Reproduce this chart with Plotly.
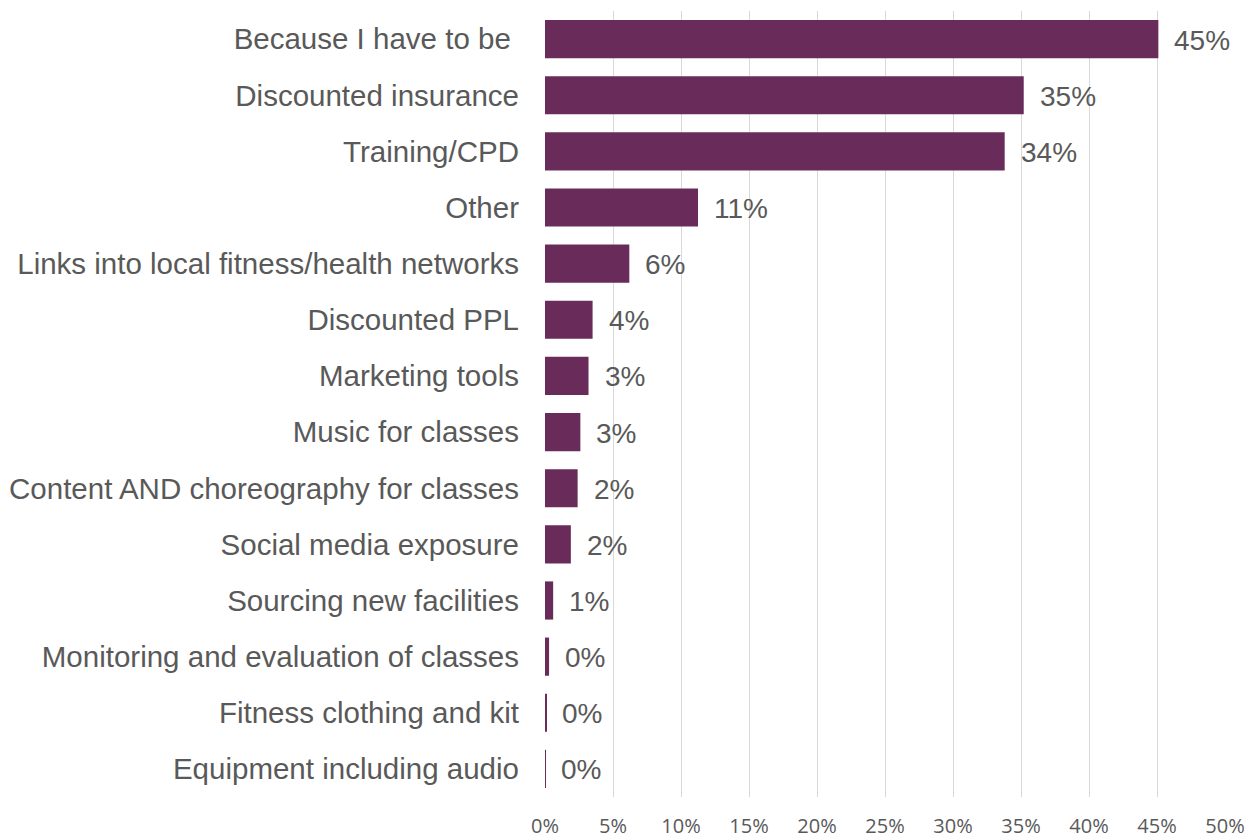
import plotly.graph_objects as go

categories = [
    "Because I have to be ",
    "Discounted insurance",
    "Training/CPD",
    "Other",
    "Links into local fitness/health networks",
    "Discounted PPL",
    "Marketing tools",
    "Music for classes",
    "Content AND choreography for classes",
    "Social media exposure",
    "Sourcing new facilities",
    "Monitoring and evaluation of classes",
    "Fitness clothing and kit",
    "Equipment including audio",
]
values = [0.451, 0.352, 0.338, 0.1125, 0.062, 0.035, 0.032, 0.026, 0.024, 0.019, 0.006, 0.003, 0.001, 0.0003]
value_labels = ["45%", "35%", "34%", "11%", "6%", "4%", "3%", "3%", "2%", "2%", "1%", "0%", "0%", "0%"]
x_tick_vals = [0, 0.05, 0.10, 0.15, 0.20, 0.25, 0.30, 0.35, 0.40, 0.45, 0.50]
x_tick_text = ["0%", "5%", "10%", "15%", "20%", "25%", "30%", "35%", "40%", "45%", "50%"]

bar_color = "#692C5A"
text_color = "#595959"

fig = go.Figure()
fig.add_trace(go.Bar(
    x=values,
    y=categories,
    orientation="h",
    marker=dict(color=bar_color, line=dict(width=0)),
    hoverinfo="skip",
))

for v, c, lab in zip(values, categories, value_labels):
    fig.add_annotation(
        x=v, y=c, text=lab, xanchor="left", yanchor="middle",
        showarrow=False, xshift=14, yshift=-1,
        font=dict(family="Liberation Sans, Arial, sans-serif", size=28, color=text_color),
    )

fig.update_layout(
    width=1251, height=831,
    margin=dict(l=537, r=34, t=3, b=42, autoexpand=False),
    paper_bgcolor="white", plot_bgcolor="white",
    bargap=0.32,
    showlegend=False,
)
fig.update_xaxes(
    range=[0, 0.5],
    tickvals=x_tick_vals,
    ticktext=x_tick_text,
    showgrid=True, gridcolor="#D9D9D9", gridwidth=1,
    zeroline=False,
    showline=False,
    ticks="",
    automargin=False,
    ticklabelstandoff=15,
    tickfont=dict(family="Open Sans, sans-serif", size=20, color=text_color),
)
fig.update_yaxes(
    autorange="reversed",
    showgrid=False,
    zeroline=False,
    showline=False,
    ticks="",
    automargin=False,
    ticklabelstandoff=25,
    tickfont=dict(family="Liberation Sans, Arial, sans-serif", size=29.5, color=text_color),
)

fig.write_html("out.html")
